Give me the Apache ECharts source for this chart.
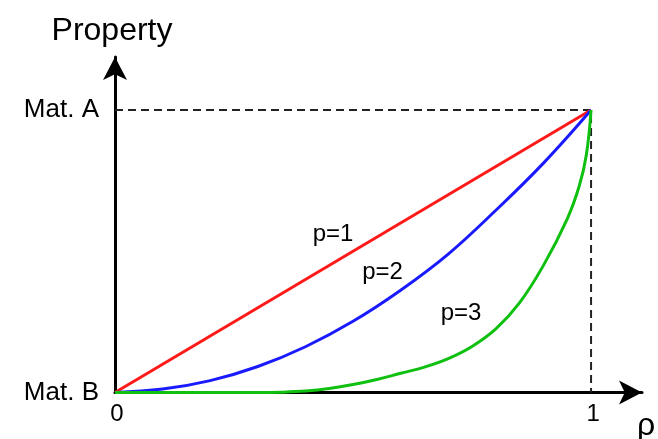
<!DOCTYPE html>
<html>
<head>
<meta charset="utf-8">
<title>Property interpolation</title>
<script src="https://cdn.jsdelivr.net/npm/echarts@6/dist/echarts.min.js"></script>
<style>
  html, body { margin: 0; padding: 0; background: #fff; }
  #chart { width: 658px; height: 439px; }
</style>
</head>
<body>
<div id="chart"></div>
<script>
// Density axis ticks and labels
const rhoTicks = [0, 1];
const rhoTickLabels = ['0', '1'];
// Property axis ticks and labels
const propTicks = [0, 1];
const propTickLabels = ['Mat. B', 'Mat. A'];

// p = 1 (linear)
const rhoP1 = [0, 1];
const propP1 = [0, 1];

// p = 2
const rhoP2 = [0, 0.1, 0.2, 0.3, 0.4, 0.5, 0.6, 0.7, 0.8, 0.9, 1];
const propP2 = [0, 0.012, 0.042, 0.092, 0.162, 0.252, 0.362, 0.49, 0.645, 0.812, 1];

// p = 3
const rhoP3 = [0, 0.1, 0.2, 0.3, 0.35, 0.4, 0.45, 0.5, 0.55, 0.6, 0.65, 0.7,
               0.75, 0.8, 0.85, 0.9, 0.95, 0.975, 0.99, 1];
const propP3 = [0, 0, 0, 0, 0.001, 0.005, 0.014, 0.028, 0.046, 0.068, 0.09, 0.12,
                0.163, 0.225, 0.318, 0.45, 0.615, 0.73, 0.84, 1];

// Curve labels and where they sit (data coordinates)
const curveNames = ['p=1', 'p=2', 'p=3'];
const curveLabelRho = [0.458, 0.562, 0.727];
const curveLabelProp = [0.561, 0.426, 0.280];

// Guide lines from the Mat. A level to rho = 1
const guideRho = [0, 1, 1];
const guideProp = [1, 1, 0];

const pairs = (xs, ys) => xs.map((x, i) => [x, ys[i]]);

const FONT = '"Liberation Sans", Arial, sans-serif';
const chart = echarts.init(document.getElementById('chart'));

const axisLine = {
  show: true,
  symbol: ['none', 'arrow'],
  symbolSize: [18, 23],
  lineStyle: { color: '#000', width: 3 }
};

chart.setOption({
  animation: false,
  backgroundColor: '#fff',
  grid: { left: 115, right: 16, top: 57, bottom: 46.5, containLabel: false },
  xAxis: {
    type: 'value', min: 0, max: 1.107,
    axisLine: axisLine,
    axisTick: { show: false },
    splitLine: { show: false },
    axisLabel: {
      customValues: rhoTicks,
      formatter: v => rhoTickLabels[rhoTicks.indexOf(v)],
      fontFamily: FONT, fontSize: 24, color: '#000', margin: 10,
      padding: [0, 0, 0, 4]
    }
  },
  yAxis: {
    type: 'value', min: 0, max: 1.1876,
    axisLine: axisLine,
    axisTick: { show: false },
    splitLine: { show: false },
    name: 'Property',
    nameLocation: 'end',
    nameGap: 10,
    nameTextStyle: { fontFamily: FONT, fontSize: 32, color: '#000', align: 'center', padding: [0, 0, 0, -6] },
    axisLabel: {
      customValues: propTicks,
      formatter: v => propTickLabels[propTicks.indexOf(v)],
      fontFamily: FONT, fontSize: 26, color: '#000', margin: 16
    }
  },
  series: [
    {
      type: 'line', data: pairs(guideRho, guideProp), symbol: 'none', z: 1,
      lineStyle: { color: '#222', width: 2, type: [8, 5] }
    },
    {
      type: 'line', data: pairs(rhoP1, propP1), symbol: 'none', z: 3,
      lineStyle: { color: '#ff1a1a', width: 3 }
    },
    {
      type: 'line', data: pairs(rhoP2, propP2), symbol: 'none', smooth: 0.4, z: 3,
      lineStyle: { color: '#1a1aff', width: 3 }
    },
    {
      type: 'line', data: pairs(rhoP3, propP3), symbol: 'none', smooth: 0.4, z: 3,
      lineStyle: { color: '#10c010', width: 3 }
    }
  ]
});

// Place curve labels and the rho symbol using the chart's own scales
const labelEls = curveNames.map((t, i) => {
  const p = chart.convertToPixel({ gridIndex: 0 }, [curveLabelRho[i], curveLabelProp[i]]);
  return {
    type: 'text', x: p[0], y: p[1], z: 10,
    style: { text: t, fontFamily: FONT, fontSize: 24, fill: '#000', align: 'center', verticalAlign: 'middle' }
  };
});
const axisEnd = chart.convertToPixel({ gridIndex: 0 }, [1.107, 0]);
labelEls.push({
  type: 'text', x: axisEnd[0] - 5, y: axisEnd[1] + 18, z: 10,
  style: { text: 'ρ', fontFamily: FONT, fontSize: 32, fill: '#000', align: 'left', verticalAlign: 'top' }
});
chart.setOption({ graphic: labelEls });
</script>
</body>
</html>
